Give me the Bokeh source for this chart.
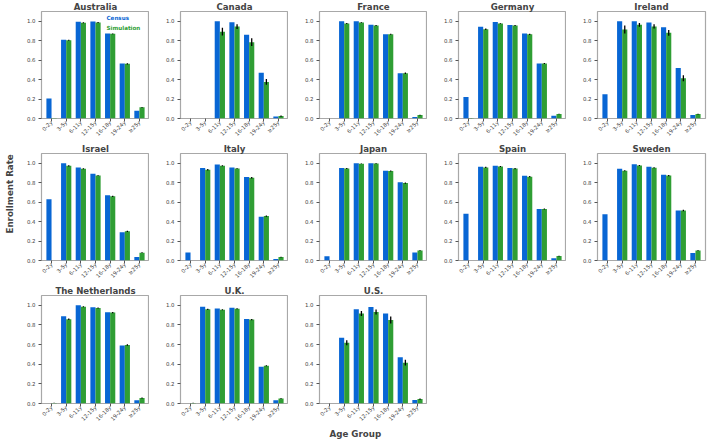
import math
import numpy as np
from bokeh.plotting import figure
from bokeh.layouts import gridplot, row
from bokeh.models import Range1d, FixedTicker, Title, Label, NumeralTickFormatter
from bokeh.embed import file_html
from bokeh.resources import INLINE

age_groups = ["0-2y", "3-5y", "6-11y", "12-15y", "16-18y", "19-24y", "≥25y"]
y_ticks = [0.0, 0.2, 0.4, 0.6, 0.8, 1.0]

australia_census = [0.205, 0.81, 0.995, 0.998, 0.875, 0.565, 0.08]
australia_sim = [0.005, 0.805, 0.985, 0.988, 0.87, 0.562, 0.115]
australia_err = [0.0, 0.005, 0.005, 0.005, 0.005, 0.006, 0.004]

canada_census = [0.0, 0.0, 1.0, 0.99, 0.86, 0.47, 0.02]
canada_sim = [0.0, 0.0, 0.892, 0.945, 0.785, 0.376, 0.025]
canada_err = [0.0, 0.0, 0.04, 0.025, 0.04, 0.03, 0.006]

france_census = [0.0, 1.0, 1.0, 0.965, 0.866, 0.466, 0.015]
france_sim = [0.0, 0.976, 0.986, 0.956, 0.866, 0.465, 0.035]
france_err = [0.0, 0.005, 0.004, 0.005, 0.004, 0.008, 0.003]

germany_census = [0.22, 0.942, 0.992, 0.962, 0.875, 0.566, 0.027]
germany_sim = [0.004, 0.917, 0.977, 0.955, 0.865, 0.566, 0.047]
germany_err = [0.002, 0.007, 0.004, 0.005, 0.006, 0.005, 0.003]

ireland_census = [0.25, 1.0, 1.0, 0.986, 0.939, 0.519, 0.035]
ireland_sim = [0.0, 0.915, 0.963, 0.947, 0.881, 0.414, 0.045]
ireland_err = [0.0, 0.04, 0.02, 0.022, 0.03, 0.03, 0.005]

israel_census = [0.63, 1.0, 0.957, 0.892, 0.67, 0.29, 0.037]
israel_sim = [0.0, 0.973, 0.943, 0.875, 0.66, 0.30, 0.08]
israel_err = [0.0, 0.006, 0.005, 0.005, 0.006, 0.006, 0.004]

italy_census = [0.081, 0.95, 0.987, 0.956, 0.859, 0.451, 0.015]
italy_sim = [0.0, 0.933, 0.973, 0.947, 0.85, 0.457, 0.035]
italy_err = [0.0, 0.008, 0.005, 0.005, 0.008, 0.006, 0.004]

japan_census = [0.044, 0.952, 1.0, 1.0, 0.923, 0.805, 0.081]
japan_sim = [0.0, 0.945, 0.995, 0.996, 0.92, 0.796, 0.104]
japan_err = [0.0, 0.005, 0.003, 0.003, 0.004, 0.006, 0.004]

spain_census = [0.48, 0.965, 0.975, 0.951, 0.872, 0.529, 0.024]
spain_sim = [0.0, 0.957, 0.967, 0.945, 0.862, 0.529, 0.045]
spain_err = [0.0, 0.006, 0.005, 0.006, 0.006, 0.005, 0.004]

sweden_census = [0.475, 0.943, 0.99, 0.965, 0.881, 0.513, 0.077]
sweden_sim = [0.0, 0.923, 0.977, 0.954, 0.873, 0.514, 0.103]
sweden_err = [0.0, 0.006, 0.005, 0.005, 0.006, 0.007, 0.004]

netherlands_census = [0.0, 0.889, 1.0, 0.98, 0.929, 0.591, 0.034]
netherlands_sim = [0.006, 0.858, 0.986, 0.973, 0.926, 0.595, 0.057]
netherlands_err = [0.002, 0.008, 0.005, 0.005, 0.006, 0.008, 0.005]

uk_census = [0.0, 0.985, 0.968, 0.976, 0.861, 0.375, 0.034]
uk_sim = [0.005, 0.959, 0.956, 0.966, 0.855, 0.385, 0.05]
uk_err = [0.002, 0.007, 0.005, 0.005, 0.006, 0.005, 0.004]

us_census = [0.0, 0.669, 0.959, 0.983, 0.916, 0.47, 0.035]
us_sim = [0.0, 0.618, 0.916, 0.932, 0.851, 0.416, 0.045]
us_err = [0.0, 0.025, 0.025, 0.025, 0.035, 0.03, 0.006]

panels = [
    ("Australia", australia_census, australia_sim, australia_err),
    ("Canada", canada_census, canada_sim, canada_err),
    ("France", france_census, france_sim, france_err),
    ("Germany", germany_census, germany_sim, germany_err),
    ("Ireland", ireland_census, ireland_sim, ireland_err),
    ("Israel", israel_census, israel_sim, israel_err),
    ("Italy", italy_census, italy_sim, italy_err),
    ("Japan", japan_census, japan_sim, japan_err),
    ("Spain", spain_census, spain_sim, spain_err),
    ("Sweden", sweden_census, sweden_sim, sweden_err),
    ("The Netherlands", netherlands_census, netherlands_sim, netherlands_err),
    ("U.K.", uk_census, uk_sim, uk_err),
    ("U.S.", us_census, us_sim, us_err),
]

BLUE = "#0866d4"
GREEN = "#2f9e34"
FONT = "DejaVu Sans"
FRAME_W = 108
FRAME_H = 108
BAR_W = 0.35
X_LO, X_HI = -0.685, 6.685
STRIP_W = 15
TOTAL_H = 441


def make_panel(name, census, sim, err, row_i, col):
    left = 41 - STRIP_W if col == 0 else 31
    right = 4 if col == 4 else 0
    top = 11
    bottom = 38 if row_i == 2 else 23
    p = figure(width=left + FRAME_W + right, height=top + FRAME_H + bottom,
               x_range=Range1d(X_LO, X_HI), y_range=Range1d(0, 1.1),
               output_backend="svg", toolbar_location=None,
               min_border_left=left, min_border_right=right,
               min_border_top=top, min_border_bottom=bottom)
    p.title.text = name
    p.title.align = "center"
    p.title.text_font = FONT
    p.title.text_font_size = "8.6px"
    p.title.text_font_style = "bold"
    p.title.standoff = -1

    idx = np.arange(len(age_groups))
    census = np.asarray(census)
    sim = np.asarray(sim)
    err = np.asarray(err)
    p.vbar(x=idx - BAR_W / 2, top=census, width=BAR_W, fill_color=BLUE, line_color=None)
    p.vbar(x=idx + BAR_W / 2, top=sim, width=BAR_W, fill_color=GREEN, line_color=None)
    p.segment(x0=idx + BAR_W / 2, y0=sim - err, x1=idx + BAR_W / 2, y1=sim + err,
              line_color="black", line_width=1.3)

    p.xgrid.visible = False
    p.ygrid.visible = False
    p.outline_line_color = "#a8a8a8"
    p.outline_line_width = 1.2
    p.background_fill_color = "white"

    for ax in (p.xaxis[0], p.yaxis[0]):
        ax.axis_line_color = None
        ax.major_tick_in = 0
        ax.major_tick_out = 3
        ax.major_tick_line_color = "#555555"
        ax.minor_tick_line_color = None
        ax.major_label_text_font = FONT
        ax.major_label_text_font_size = "5.4px"
        ax.major_label_text_color = "#444444"
    p.xaxis.major_label_standoff = 0
    p.yaxis.major_label_standoff = 3

    p.xaxis.ticker = FixedTicker(ticks=list(range(len(age_groups))))
    p.xaxis.major_label_overrides = {i: lab for i, lab in enumerate(age_groups)}
    p.xaxis.major_label_orientation = math.pi / 4
    p.yaxis.ticker = FixedTicker(ticks=y_ticks)
    p.yaxis.formatter = NumeralTickFormatter(format="0.0")
    return p


figs = []
for k, (name, c, s, e) in enumerate(panels):
    figs.append(make_panel(name, c, s, e, k // 5, k % 5))

# legend text inside the first panel
first = figs[0]
first.add_layout(Label(x=3.75, y=1.037, text="Census", text_color=BLUE,
                       text_font=FONT, text_font_size="5.6px", text_font_style="bold",
                       text_baseline="middle"))
first.add_layout(Label(x=3.75, y=0.926, text="Simulation", text_color=GREEN,
                       text_font=FONT, text_font_size="5.6px", text_font_style="bold",
                       text_baseline="middle"))

# shared x-axis title under the bottom row
figs[12].add_layout(Title(text="Age Group", align="left", offset=10,
                          text_font=FONT, text_font_size="8.7px", text_font_style="bold",
                          standoff=-1), "below")

grid = gridplot([figs[0:5], figs[5:10], figs[10:13] + [None, None]],
                toolbar_location=None)

# narrow strip on the left carrying the shared y-axis title
strip = figure(width=STRIP_W, height=TOTAL_H, output_backend="svg", toolbar_location=None,
               x_axis_location=None, y_axis_location=None,
               min_border_left=STRIP_W - 1, min_border_right=0,
               min_border_top=0, min_border_bottom=0)
strip.outline_line_color = None
strip.xgrid.visible = False
strip.ygrid.visible = False
strip.add_layout(Title(text="Enrollment Rate", align="left", offset=208,
                       text_font=FONT, text_font_size="8.7px", text_font_style="bold",
                       standoff=0), "left")

layout = row(strip, grid)

open("out.html", "w").write(file_html(layout, INLINE))
